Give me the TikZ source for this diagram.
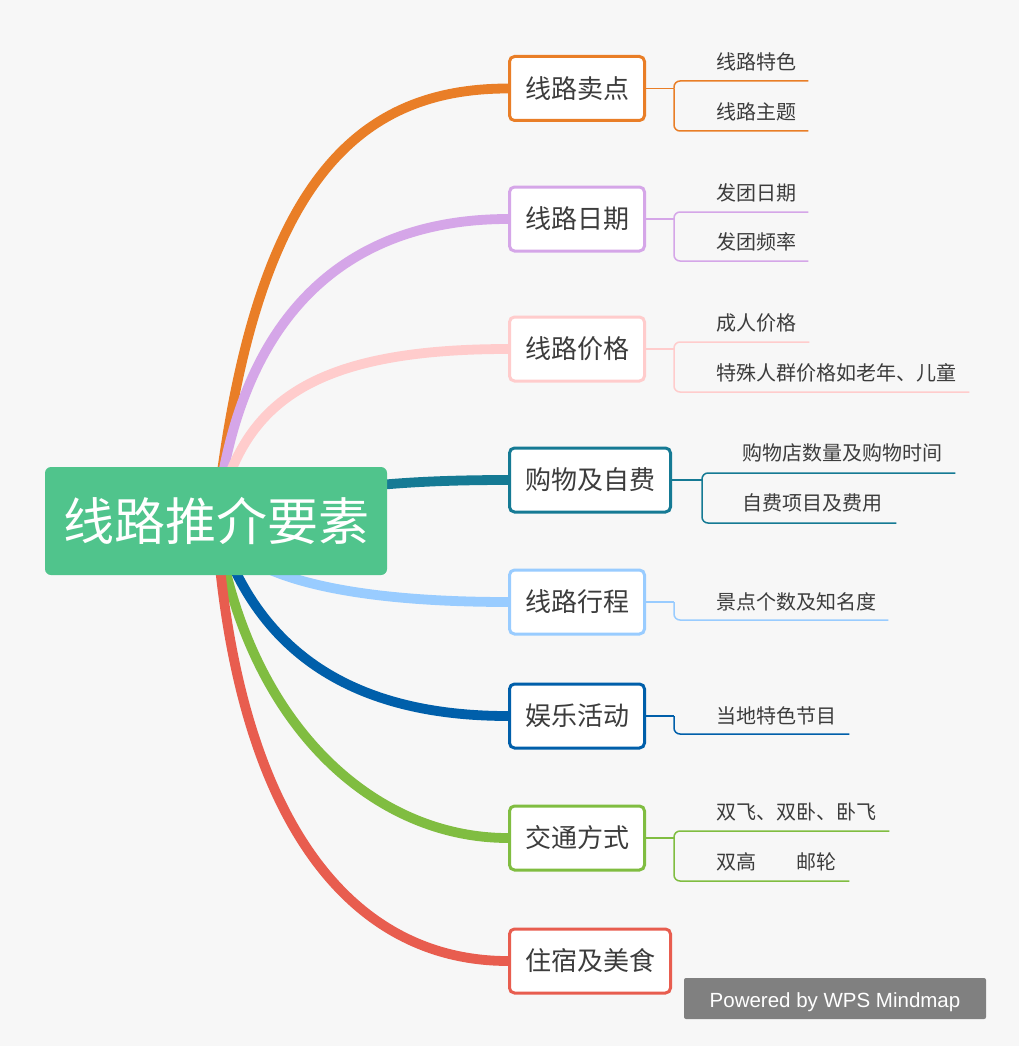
\documentclass[tikz,border=0pt]{standalone}
\usepackage{fontspec}
\setmainfont{Noto Sans CJK SC}
\newfontfamily\wmfont{Liberation Sans}
\usetikzlibrary{calc}
\pgfdeclarelayer{bg}
\pgfdeclarelayer{background}
\pgfsetlayers{bg,background,main}
\definecolor{cBg}{HTML}{F7F7F7}
\definecolor{cRoot}{HTML}{50C48C}
\definecolor{cText}{HTML}{3C3C3C}
\definecolor{cOr}{HTML}{E97E27}
\definecolor{cLav}{HTML}{D5A6E8}
\definecolor{cPink}{HTML}{FFCCCC}
\definecolor{cTeal}{HTML}{157A94}
\definecolor{cLb}{HTML}{99CCFF}
\definecolor{cBlue}{HTML}{005FAA}
\definecolor{cGreen}{HTML}{80BD41}
\definecolor{cRed}{HTML}{E85D4F}
\definecolor{cWm}{HTML}{808080}
\begin{document}
\begin{tikzpicture}[x=1pt,y=-1pt,
  rootbox/.style={fill=cRoot, rounded corners=6pt, minimum width=342pt, minimum height=108pt, inner sep=0pt, text=white, font=\fontsize{51pt}{60pt}\selectfont},
  topic/.style={draw=#1, line width=3pt, fill=white, rounded corners=5pt, minimum height=64pt, inner sep=0pt, text=cText, font=\fontsize{26pt}{30pt}\selectfont},
  leaf/.style={anchor=west, inner sep=0pt, text=cText, font=\fontsize{20pt}{24pt}\selectfont},
  branch/.style={draw=#1, line width=9.8pt},
  twig/.style={draw=#1, line width=1.5pt, rounded corners=6pt},
  wmbox/.style={fill=cWm, rounded corners=2pt, minimum width=302pt, minimum height=41pt, inner sep=0pt, text height=20pt, text depth=3pt, text=white, font=\wmfont\fontsize{20.5pt}{24pt}\selectfont},
]
\useasboundingbox (0,0) rectangle (1019,1046);
\begin{pgfonlayer}{bg}
\fill[cBg] (0,0) rectangle (1019,1046);
\end{pgfonlayer}

% root and topics
\node[rootbox] (root) at (216,521) {线路推介要素};
\node[topic=cOr, minimum width=135pt] (t1) at (577,88.5) {线路卖点};
\node[topic=cLav, minimum width=135pt] (t2) at (577,219) {线路日期};
\node[topic=cPink, minimum width=135pt] (t3) at (577,349) {线路价格};
\node[topic=cTeal, minimum width=161pt] (t4) at (590,480) {购物及自费};
\node[topic=cLb, minimum width=135pt] (t5) at (577,602) {线路行程};
\node[topic=cBlue, minimum width=135pt] (t6) at (577,716) {娱乐活动};
\node[topic=cGreen, minimum width=135pt] (t7) at (577,838) {交通方式};
\node[topic=cRed, minimum width=161pt] (t8) at (590,961) {住宿及美食};

% leaves
\node[leaf] (l11) at (716,62) {线路特色};
\node[leaf] (l12) at (716,112) {线路主题};
\node[leaf] (l21) at (716,193) {发团日期};
\node[leaf] (l22) at (716,242) {发团频率};
\node[leaf] (l31) at (716,323) {成人价格};
\node[leaf] (l32) at (716,373) {特殊人群价格如老年、儿童};
\node[leaf] (l41) at (742,453) {购物店数量及购物时间};
\node[leaf] (l42) at (742,503) {自费项目及费用};
\node[leaf] (l51) at (716,602) {景点个数及知名度};
\node[leaf] (l61) at (716,716) {当地特色节目};
\node[leaf] (l71) at (716,812) {双飞、双卧、卧飞};
\node[leaf] (l72) at (716,862) {双高\hspace{2em}邮轮};

% junctions
\coordinate (j1) at (674,88.5);
\coordinate (j2) at (674,219);
\coordinate (j3) at (674,349);
\coordinate (j4) at (702,480);
\coordinate (j5) at (674,602);
\coordinate (j6) at (674,716);
\coordinate (j7) at (674,838);

% twigs
\draw[twig=cOr] (t1.east) -- (j1);
\draw[twig=cOr] (j1) |- ($(l11.east)+(12,19)$);
\draw[twig=cOr] (j1) |- ($(l12.east)+(12,19)$);
\draw[twig=cLav] (t2.east) -- (j2);
\draw[twig=cLav] (j2) |- ($(l21.east)+(12,19)$);
\draw[twig=cLav] (j2) |- ($(l22.east)+(12,19)$);
\draw[twig=cPink] (t3.east) -- (j3);
\draw[twig=cPink] (j3) |- ($(l31.east)+(13,19)$);
\draw[twig=cPink] (j3) |- ($(l32.east)+(13,19)$);
\draw[twig=cTeal] (t4.east) -- (j4);
\draw[twig=cTeal] (j4) |- ($(l41.east)+(13,20)$);
\draw[twig=cTeal] (j4) |- ($(l42.east)+(14,20)$);
\draw[twig=cLb] (t5.east) -- (j5);
\draw[twig=cLb] (j5) |- ($(l51.east)+(12,18)$);
\draw[twig=cBlue] (t6.east) -- (j6);
\draw[twig=cBlue] (j6) |- ($(l61.east)+(13,18)$);
\draw[twig=cGreen] (t7.east) -- (j7);
\draw[twig=cGreen] (j7) |- ($(l71.east)+(13,19)$);
\draw[twig=cGreen] (j7) |- ($(l72.east)+(13,19)$);

% branches
\begin{pgfonlayer}{background}
\draw[branch=cOr] (root.center) .. controls +(36,-336) and +(-153,0) .. (t1.west);
\draw[branch=cLav] (root.center) .. controls +(24,-221) and +(-148,0) .. (t2.west);
\draw[branch=cPink] (root.center) .. controls +(24,-111) and +(-208,0) .. (t3.west);
\draw[branch=cTeal] (root.center) .. controls +(84,-31) and +(-128,0) .. (t4.west);
\draw[branch=cLb] (root.center) .. controls +(14,49) and +(-183,0) .. (t5.west);
\draw[branch=cBlue] (root.center) .. controls +(42,141) and +(-143,0) .. (t6.west);
\draw[branch=cGreen] (root.center) .. controls +(29,199) and +(-138,0) .. (t7.west);
\draw[branch=cRed] (root.center) .. controls +(20,299) and +(-158,0) .. (t8.west);
\end{pgfonlayer}

% watermark
\node[wmbox] (wm) at (835,998.5) {Powered by WPS Mindmap};
\end{tikzpicture}
\end{document}
